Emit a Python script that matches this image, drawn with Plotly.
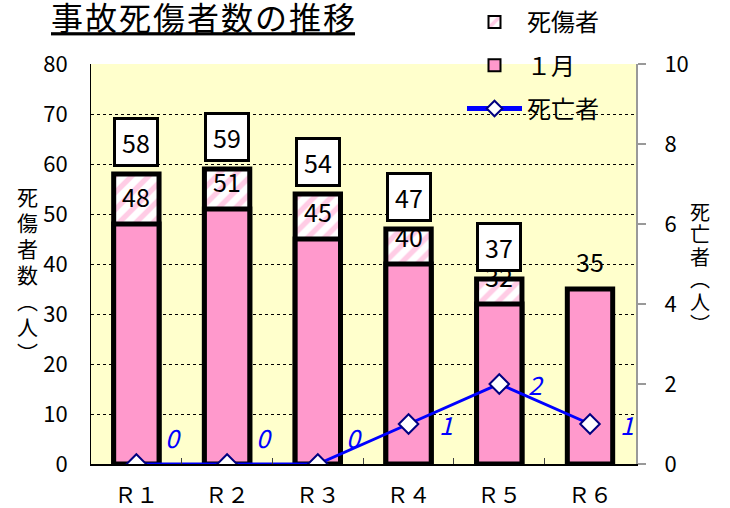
import plotly.graph_objects as go

categories = ["Ｒ１", "Ｒ２", "Ｒ３", "Ｒ４", "Ｒ５", "Ｒ６"]
casualties = [58, 59, 54, 47, 37, None]
january = [48, 51, 45, 40, 32, 35]
deaths = [0, 0, 0, 1, 2, 1]
title_text = "事故死傷者数の推移"

FONT = "Noto Sans CJK JP"
PINK = "#FF99CC"
W, H = 730, 508
# plot area in screen pixels: x 91..636, y 64..464
L, T = 91, 64
R, B = W - 636, H - 464
PW, PH = W - L - R, H - T - B


def px(sx, sy):
    return (sx - L) / PW, (H - B - sy) / PH


fig = go.Figure()
fig.add_bar(
    x=categories, y=casualties, name="死傷者", width=0.5, legendgroup="a",
    marker=dict(color="white", line=dict(color="black", width=5),
                pattern=dict(shape="/", fgcolor=PINK, bgcolor="white", size=12, solidity=0.45)),
)
fig.add_bar(
    x=categories, y=january, name="１月", width=0.5, legendgroup="b",
    marker=dict(color=PINK, line=dict(color="black", width=5)),
)
fig.add_scatter(
    x=categories, y=deaths, name="死亡者", yaxis="y2", mode="lines+markers", legendgroup="c",
    line=dict(color="#0000FF", width=3),
    marker=dict(symbol="diamond", size=15, color="white", line=dict(color="#000080", width=2)),
)

ann = []
for c, v in zip(categories, casualties):
    if v is not None:
        ann.append(dict(x=c, y=v, xref="x", yref="y", yshift=32, text=str(v), showarrow=False,
                        font=dict(size=25, color="black", family=FONT), bgcolor="white",
                        bordercolor="black", borderwidth=3, borderpad=3, width=34, height=38))
for c, v in zip(categories, january):
    ann.append(dict(x=c, y=v, xref="x", yref="y", yshift=28, text=str(v), showarrow=False,
                    font=dict(size=25, color="black", family=FONT)))
for c, v in zip(categories, deaths):
    ann.append(dict(x=c, y=v, xref="x", yref="y2", xshift=37, yshift=27 if v == 0 else 0,
                    text=f"<i>{v}</i>", showarrow=False,
                    font=dict(size=25, color="#0000FF", family=FONT)))

left_title = ["死", "傷", "者", "数", "︵", "人", "︶"]
for i, ch in enumerate(left_title):
    x, y = px(27, 196 + 26 * i)
    ann.append(dict(x=x, y=y, xref="paper", yref="paper", text=ch, showarrow=False,
                    xanchor="center", yanchor="middle",
                    font=dict(size=21, color="black", family=FONT)))
right_title = ["死", "亡", "者", "︵", "人", "︶"]
for i, ch in enumerate(right_title):
    x, y = px(700, 211 + 22.5 * i)
    ann.append(dict(x=x, y=y, xref="paper", yref="paper", text=ch, showarrow=False,
                    xanchor="center", yanchor="middle",
                    font=dict(size=20, color="black", family=FONT)))

lx, ly = px(462, 0)
fig.update_layout(
    width=W, height=H,
    margin=dict(l=L, r=R, t=T, b=B, autoexpand=False),
    paper_bgcolor="white", plot_bgcolor="#FFFFCC",
    barmode="overlay",
    font=dict(family=FONT, color="black"),
    title=dict(text="<u>" + "\u200a".join(title_text) + "</u>", x=51 / W, xanchor="left",
               y=1 - 19 / H, yanchor="middle",
               font=dict(size=32, color="black", family=FONT)),
    legend=dict(x=lx, y=ly, xanchor="left", yanchor="top", bgcolor="rgba(0,0,0,0)",
                font=dict(size=24, family=FONT), tracegroupgap=9, itemsizing="constant",
                itemwidth=55),
    annotations=ann,
    xaxis=dict(showline=True, linecolor="black", linewidth=2, ticks="inside",
               tickson="boundaries", ticklen=6, tickcolor="#404040", showgrid=False,
               tickfont=dict(size=22), ticklabelstandoff=11, tickangle=0, automargin=False),
    yaxis=dict(range=[0, 80], dtick=10, showgrid=True, gridcolor="black", griddash="dot",
               gridwidth=1, showline=True, linecolor="black", linewidth=1, ticks="",
               zeroline=False, tickfont=dict(size=22), ticklabelstandoff=18, automargin=False),
    yaxis2=dict(overlaying="y", side="right", range=[0, 10], dtick=2, showgrid=False,
                showline=True, linecolor="#999999", linewidth=2, ticks="outside", ticklen=8,
                tickwidth=2, tickcolor="#999999", zeroline=False, tickfont=dict(size=22),
                ticklabelstandoff=14, automargin=False),
    showlegend=True,
)

fig.write_html("out.html", config={"displayModeBar": False},
               post_script="document.body.style.margin='0';")
